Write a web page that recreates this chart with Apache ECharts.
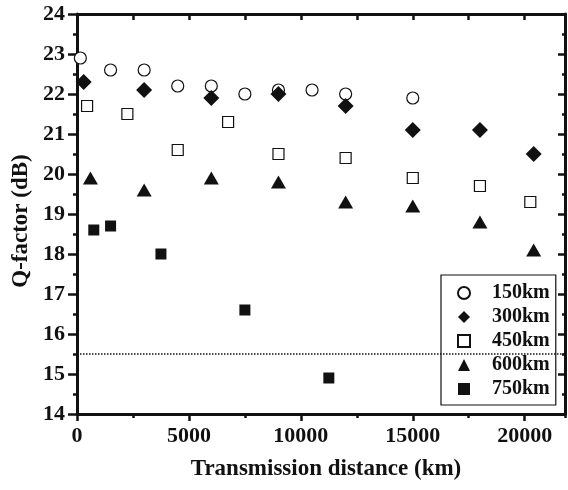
<!DOCTYPE html>
<html>
<head>
<meta charset="utf-8">
<script src="https://cdn.jsdelivr.net/npm/echarts@6/dist/echarts.min.js"></script>
<style>
  html, body { margin: 0; padding: 0; background: #fff; }
  #chart { width: 568px; height: 490px; }
</style>
</head>
<body>
<div id="chart"></div>
<script>
// tick values
const xTicks = [0, 5000, 10000, 15000, 20000];
const yTicks = [14, 15, 16, 17, 18, 19, 20, 21, 22, 23, 24];

// series data (distance in km, Q in dB)
const dist150 = [150, 1500, 3000, 4500, 6000, 7500, 9000, 10500, 12000, 15000];
const q150 = [22.9, 22.6, 22.6, 22.2, 22.2, 22.0, 22.1, 22.1, 22.0, 21.9];

const dist300 = [300, 3000, 6000, 9000, 12000, 15000, 18000, 20400];
const q300 = [22.3, 22.1, 21.9, 22.0, 21.7, 21.1, 21.1, 20.5];

const dist450 = [450, 2250, 4500, 6750, 9000, 12000, 15000, 18000, 20250];
const q450 = [21.7, 21.5, 20.6, 21.3, 20.5, 20.4, 19.9, 19.7, 19.3];

const dist600 = [600, 3000, 6000, 9000, 12000, 15000, 18000, 20400];
const q600 = [19.9, 19.6, 19.9, 19.8, 19.3, 19.2, 18.8, 18.1];

const dist750 = [750, 1500, 3750, 7500, 11250];
const q750 = [18.6, 18.7, 18.0, 16.6, 14.9];

const threshold = 15.5;

const font = 'Liberation Serif';
const ink = '#111';

const pairs = (xs, ys) => xs.map((x, i) => [x, ys[i]]);

const chart = echarts.init(document.getElementById('chart'));

const spine = { show: true, onZero: false, lineStyle: { color: ink, width: 3 } };

chart.setOption({
  animation: false,
  backgroundColor: '#fff',
  grid: { left: 77, top: 14, right: 3, bottom: 76 },
  xAxis: [
    {
      // bottom axis: line, major ticks, labels, title
      type: 'value', position: 'bottom', min: 0, max: 21800,
      axisLine: spine,
      axisTick: { show: true, customValues: xTicks, length: 7, lineStyle: { color: ink, width: 2.5 } },
      axisLabel: {
        customValues: xTicks, margin: 11,
        formatter: (v) => String(v),
        color: ink, fontFamily: font, fontWeight: 'bold', fontSize: 22
      },
      splitLine: { show: false },
      name: 'Transmission distance (km)',
      nameLocation: 'middle', nameGap: 44,
      nameTextStyle: { color: ink, fontFamily: font, fontWeight: 'bold', fontSize: 23, padding: [0, 0, 0, 10] }
    },
    {
      // bottom minor ticks every 2500
      type: 'value', position: 'bottom', min: 0, max: 21800, interval: 2500,
      axisLine: { show: false },
      axisTick: { show: true, length: 4, lineStyle: { color: ink, width: 2.5 } },
      axisLabel: { show: false },
      splitLine: { show: false }
    },
    {
      // top mirrored axis
      type: 'value', position: 'top', min: 0, max: 21800, interval: 2500,
      axisLine: spine,
      axisTick: { show: true, inside: true, length: 6, lineStyle: { color: ink, width: 2.5 } },
      axisLabel: { show: false },
      splitLine: { show: false }
    }
  ],
  yAxis: [
    {
      type: 'value', position: 'left', min: yTicks[0], max: yTicks[yTicks.length - 1], interval: 1,
      axisLine: spine,
      axisTick: { show: true, length: 9, lineStyle: { color: ink, width: 2.5 } },
      minorTick: { show: true, splitNumber: 2, length: 4, lineStyle: { color: ink, width: 2.5 } },
      axisLabel: { margin: 12, color: ink, fontFamily: font, fontWeight: 'bold', fontSize: 22 },
      splitLine: { show: false },
      name: 'Q-factor (dB)',
      nameLocation: 'middle', nameGap: 42, nameRotate: 90,
      nameTextStyle: { color: ink, fontFamily: font, fontWeight: 'bold', fontSize: 23, padding: [0, 14, 0, 0] }
    },
    {
      // right mirrored axis
      type: 'value', position: 'right', min: yTicks[0], max: yTicks[yTicks.length - 1], interval: 1,
      axisLine: spine,
      axisTick: { show: true, inside: true, length: 7, lineStyle: { color: ink, width: 2.5 } },
      minorTick: { show: true, splitNumber: 2, length: 3, lineStyle: { color: ink, width: 2.5 } },
      axisLabel: { show: false },
      splitLine: { show: false }
    }
  ],
  legend: {
    orient: 'vertical',
    left: 441, top: 275,
    padding: [6, 6, 4, 16],
    itemGap: 0,
    itemWidth: 12, itemHeight: 12,
    backgroundColor: '#fff',
    borderColor: ink, borderWidth: 1.2, borderRadius: 0,
    textStyle: { color: ink, fontFamily: font, fontWeight: 'bold', fontSize: 20, lineHeight: 24, padding: [0, 0, 0, 17] },
    data: ['150km', '300km', '450km', '600km', '750km']
  },
  series: [
    {
      name: '150km', type: 'scatter', symbol: 'circle', symbolSize: 12,
      itemStyle: { color: '#fff', borderColor: ink, borderWidth: 1.2, opacity: 1 },
      data: pairs(dist150, q150),
      markLine: {
        silent: true, symbol: 'none', label: { show: false },
        lineStyle: { color: ink, width: 1.5, type: [1.5, 1.5] },
        data: [{ yAxis: threshold }]
      }
    },
    {
      name: '300km', type: 'scatter', symbol: 'diamond', symbolSize: 16,
      itemStyle: { color: ink, opacity: 1 },
      data: pairs(dist300, q300)
    },
    {
      name: '450km', type: 'scatter', symbol: 'rect', symbolSize: 11,
      itemStyle: { color: '#fff', borderColor: ink, borderWidth: 1.2, opacity: 1 },
      data: pairs(dist450, q450)
    },
    {
      name: '600km', type: 'scatter', symbol: 'triangle', symbolSize: [15, 13],
      itemStyle: { color: ink, opacity: 1 },
      data: pairs(dist600, q600)
    },
    {
      name: '750km', type: 'scatter', symbol: 'rect', symbolSize: 11,
      itemStyle: { color: ink, opacity: 1 },
      data: pairs(dist750, q750)
    }
  ]
});
</script>
</body>
</html>
